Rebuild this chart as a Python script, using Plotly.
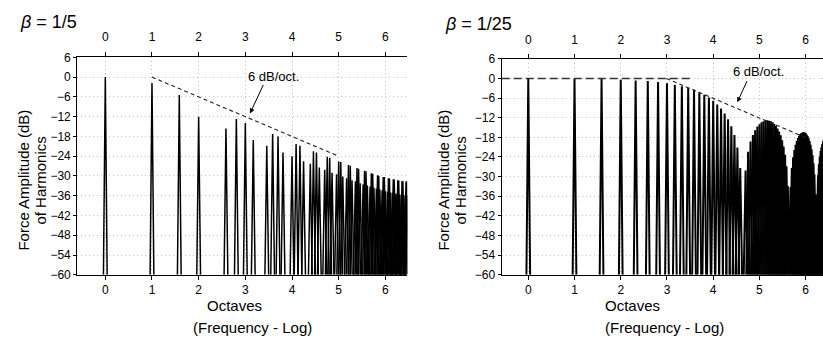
import math
import plotly.graph_objects as go

W, H = 823, 341
FLOOR = -60

# ---------------- data ----------------
octave_ticks = [0, 1, 2, 3, 4, 5, 6]
db_ticks = [-60, -54, -48, -42, -36, -30, -24, -18, -12, -6, 0, 6]

# beta = 1/5 : harmonic number and amplitude (dB)
harm_a = list(range(1, 90))
amp_a = [
    0.0, -1.8, -5.4, -12.0, -60, -15.6, -12.7, -13.9, -19.1, -60,
    -20.8, -17.3, -18.0, -22.9, -60, -24.0, -20.3, -20.8, -25.5, -60,
    -26.3, -22.5, -22.9, -27.4, -60, -28.1, -24.2, -24.5, -29.0, -60,
    -29.5, -25.6, -25.8, -30.2, -60, -30.7, -26.7, -26.9, -31.3, -60,
    -31.6, -27.6, -27.8, -32.2, -60, -32.5, -28.4, -28.6, -32.9, -60,
    -33.2, -29.2, -29.3, -33.6, -60, -33.8, -29.8, -29.9, -34.1, -60,
    -34.3, -30.3, -30.3, -34.6, -60, -34.8, -30.7, -30.8, -35.0, -60,
    -35.1, -31.0, -31.1, -35.3, -60, -35.4, -31.3, -31.4, -35.6, -60,
    -35.7, -31.5, -31.6, -35.8, -60, -35.9, -31.7, -31.7, -36.0,
]

# beta = 1/25
harm_b = list(range(1, 85))
amp_b = [
    0.0, -0.1, -0.2, -0.4, -0.6, -0.8, -1.1, -1.5, -1.9, -2.4,
    -2.9, -3.5, -4.2, -5.0, -5.8, -6.8, -8.0, -9.2, -10.7, -12.5,
    -14.6, -17.3, -21.1, -27.4, -60, -28.1, -22.4, -19.3, -17.3, -15.8,
    -14.7, -14.0, -13.4, -13.1, -12.9, -12.8, -12.9, -13.1, -13.4, -13.9,
    -14.5, -15.3, -16.2, -17.4, -18.9, -20.8, -23.3, -26.8, -32.9, -60,
    -33.2, -27.4, -24.1, -21.9, -20.3, -19.1, -18.2, -17.5, -17.0, -16.7,
    -16.5, -16.4, -16.5, -16.7, -17.1, -17.6, -18.3, -19.2, -20.3, -21.7,
    -23.5, -25.9, -29.3, -35.4, -60, -35.5, -29.6, -26.2, -23.9, -22.2,
    -21.0, -20.0, -19.2, -18.6,
]

# 6 dB/oct. envelope guides (octave, dB)
env_a_oct = [1, 5]
env_a_db = [0, -24]
flat_b_oct = [-0.575, 3.54]
flat_b_db = [0, 0]
env_b_oct = [2.99, 6.0]
env_b_db = [0, -18.1]

# axis ranges in octaves
xr_a = [-0.60, 6.47]
xr_b = [-0.575, 6.375]

FONT = "Liberation Sans, Arial, sans-serif"


def px(x):
    return x / W


def py(y):
    return 1 - y / H


def spikes(harm, amp, hw=0.04):
    xs, ys = [], []
    for n, a in zip(harm, amp):
        if a <= FLOOR:
            continue
        xs += [n * 2 ** (-hw), n, n * 2 ** hw, None]
        ys += [FLOOR, a, FLOOR, None]
    return xs, ys


def oct2f(o):
    return [2.0 ** v for v in o]


def lrange(r):
    return [v * math.log10(2) for v in r]


fig = go.Figure()

xa, ya = spikes(harm_a, amp_a)
fig.add_trace(go.Scatter(x=xa, y=ya, mode="lines", line=dict(color="black", width=1.5),
                         xaxis="x", yaxis="y", hoverinfo="skip", showlegend=False))
xb, yb = spikes(harm_b, amp_b)
fig.add_trace(go.Scatter(x=xb, y=yb, mode="lines", line=dict(color="black", width=2.0),
                         xaxis="x2", yaxis="y2", hoverinfo="skip", showlegend=False))

fig.add_trace(go.Scatter(x=oct2f(env_a_oct), y=env_a_db, mode="lines",
                         line=dict(color="#222", width=1.1, dash="4px,3px"),
                         xaxis="x3", yaxis="y", hoverinfo="skip", showlegend=False))
fig.add_trace(go.Scatter(x=oct2f(flat_b_oct), y=flat_b_db, mode="lines",
                         line=dict(color="#333", width=1.5, dash="8px,4px"),
                         xaxis="x4", yaxis="y2", hoverinfo="skip", showlegend=False))
fig.add_trace(go.Scatter(x=oct2f(env_b_oct), y=env_b_db, mode="lines",
                         line=dict(color="#222", width=1.1, dash="4px,3px"),
                         xaxis="x4", yaxis="y2", hoverinfo="skip", showlegend=False))

tickvals = [2.0 ** k for k in octave_ticks]
ticktext = [str(k) for k in octave_ticks]

common_x = dict(type="log", tickvals=tickvals, ticktext=ticktext, ticks="outside",
                ticklen=4, tickwidth=1, tickcolor="black", showline=True,
                linecolor="black", linewidth=1.3, zeroline=False,
                tickfont=dict(family=FONT, size=12, color="black"))
grid = dict(showgrid=True, gridcolor="#c4c4c4", griddash="1px,3px", gridwidth=1)
common_y = dict(range=[-60, 6], tickvals=db_ticks, ticks="outside", ticklen=3,
                tickwidth=1, tickcolor="black", showline=True, linecolor="black",
                linewidth=1.3, zeroline=False,
                tickfont=dict(family=FONT, size=12, color="black"), **grid)

dom_a = [px(77.3), px(407.3)]
dom_b = [px(501.7), 1.0]

fig.update_layout(
    width=W, height=H, autosize=False,
    margin=dict(l=0, r=0, t=0, b=0),
    paper_bgcolor="white", plot_bgcolor="white",
    font=dict(family=FONT, color="black"),
    xaxis=dict(domain=dom_a, range=lrange(xr_a), anchor="y", **common_x, **grid),
    xaxis3=dict(range=lrange(xr_a), overlaying="x", side="top", anchor="y",
                showgrid=False, ticklabelstandoff=6, **common_x),
    yaxis=dict(domain=[py(279.3), py(52.5)], anchor="x", **common_y),
    xaxis2=dict(domain=dom_b, range=lrange(xr_b), anchor="y2", **common_x, **grid),
    xaxis4=dict(range=lrange(xr_b), overlaying="x2", side="top", anchor="y2",
                showgrid=False, ticklabelstandoff=5, **common_x),
    yaxis2=dict(domain=[py(279.3), py(54)], anchor="x2", **common_y),
)

ann = []


def text(x, y, s, size=15, angle=0, xanchor="center"):
    ann.append(dict(x=px(x), y=py(y), xref="paper", yref="paper", text=s,
                    showarrow=False, textangle=angle, xanchor=xanchor, yanchor="middle",
                    font=dict(family=FONT, size=size, color="black")))


text(18, 15.5, "<i>β</i> = 1/5", size=18, xanchor="left")
text(443, 18, "<i>β</i> = 1/25", size=18, xanchor="left")

for cx in (24, 444):
    text(cx, 181, "Force Amplitude (dB)", angle=-90)
for cx in (41, 461):
    text(cx, 181, "of Harmonics", angle=-90)

text(234.6, 311, "Octaves")
text(252.7, 334, "(Frequency - Log)")
text(632.3, 311, "Octaves")
text(664.7, 334, "(Frequency - Log)")

text(273, 72, "6 dB/oct.", size=13)
text(758.6, 67, "6 dB/oct.", size=13)

for (tx, ty, dx, dy) in [(250, 111, 14, -30), (737.3, 99.3, 10.4, -22.6)]:
    ann.append(dict(x=px(tx), y=py(ty), xref="paper", yref="paper", text="",
                    showarrow=True, ax=dx, ay=dy, arrowhead=2, arrowsize=1,
                    arrowwidth=1, arrowcolor="black"))

fig.update_layout(annotations=ann)

fig.write_html("out.html")
